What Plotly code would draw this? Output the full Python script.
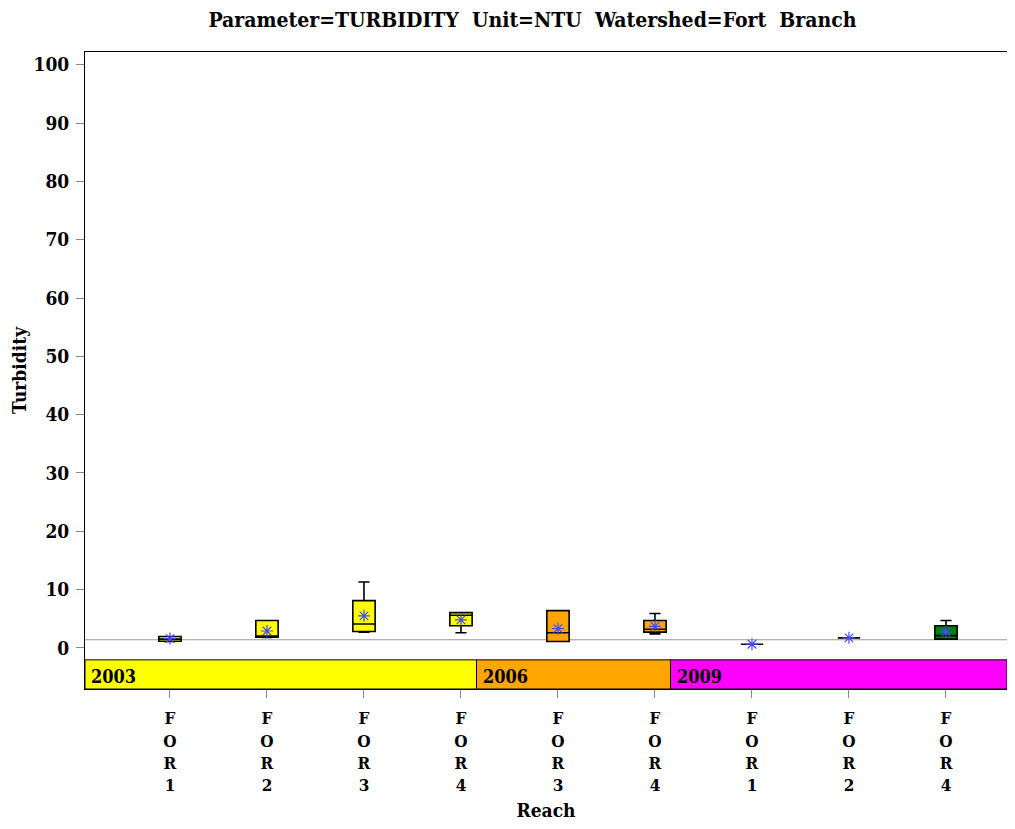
import plotly.graph_objects as go

# box plot summary per reach/year
reaches = ["FOR1", "FOR2", "FOR3", "FOR4", "FOR3", "FOR4", "FOR1", "FOR2", "FOR4"]
years = ["2003", "2003", "2003", "2003", "2006", "2006", "2009", "2009", "2009"]
mins = [1.1, 1.8, 2.7, 2.6, 1.1, 2.4, 0.63, 1.72, 1.5]
q1s = [1.15, 1.85, 2.8, 3.8, 1.1, 2.7, 0.63, 1.72, 1.5]
medians = [1.5, 1.9, 4.1, 5.6, 2.6, 3.2, 0.63, 1.72, 2.1]
q3s = [1.95, 4.7, 8.1, 6.05, 6.4, 4.7, 0.63, 1.72, 3.8]
maxs = [1.95, 4.7, 11.3, 6.05, 6.4, 5.9, 0.63, 1.72, 4.7]
means = [1.6, 2.9, 5.5, 4.8, 3.3, 3.7, 0.63, 1.72, 2.7]
box_colors = ["#FFFF00", "#FFFF00", "#FFFF00", "#FFFF00", "#FFA500", "#FFA500",
              "#FF00FF", "#FF00FF", "#008000"]
ref_value = 1.4

year_labels = ["2003", "2006", "2009"]
year_colors = ["#FFFF00", "#FFA500", "#FF00FF"]

font_family = "DejaVu Serif Condensed, DejaVu Serif, serif"
pos = list(range(len(reaches)))

fig = go.Figure()

for i in pos:
    fig.add_trace(go.Box(
        x=[i], q1=[q1s[i]], median=[medians[i]], q3=[q3s[i]],
        lowerfence=[mins[i]], upperfence=[maxs[i]],
        width=0.23, whiskerwidth=0.5,
        fillcolor=box_colors[i], line=dict(color="black", width=1.6),
        showlegend=False, hoverinfo="skip"))

fig.add_trace(go.Scatter(
    x=pos, y=means, mode="markers",
    marker=dict(symbol="asterisk-open", size=10, color="#4848FF",
                line=dict(color="#4848FF", width=1.2)),
    showlegend=False))

# year block band at the bottom of the plot area
x_lo, x_hi = -0.876, 8.629
edges = [x_lo, 3.16, 5.16, x_hi]
for k, yr in enumerate(year_labels):
    fig.add_shape(type="rect", x0=edges[k], x1=edges[k + 1], y0=-7.05, y1=-2.05,
                  fillcolor=year_colors[k], line=dict(color="black", width=1),
                  layer="below")
    fig.add_annotation(x=edges[k], y=-4.55, text=yr, showarrow=False,
                       xanchor="left", xshift=4, yshift=-2,
                       font=dict(family=font_family, size=18, color="black", weight="bold"))

fig.add_shape(type="line", xref="paper", x0=0, x1=1, y0=ref_value, y1=ref_value,
              line=dict(color="#999999", width=1.2), layer="below")

# page body adds an 8px margin, so the figure is sized to fit inside it
fig.update_layout(
    width=999, height=813,
    margin=dict(l=77, r=0, t=44, b=132),
    plot_bgcolor="white", paper_bgcolor="white",
    font=dict(family=font_family, size=19, color="black", weight="bold"),
    title=dict(text="Parameter=TURBIDITY  Unit=NTU  Watershed=Fort  Branch",
               x=0.525, xanchor="center", y=0.995, yanchor="top",
               font=dict(family=font_family, size=21, weight="bold")),
    xaxis=dict(range=[x_lo, x_hi], tickvals=pos,
               ticktext=["<br>".join(r) for r in reaches],
               ticks="outside", ticklen=8, tickcolor="#888888",
               tickfont=dict(size=17), ticklabelstandoff=6,
               showline=True, linecolor="black", mirror=True,
               showgrid=False, zeroline=False,
               title=dict(text="Reach", standoff=14,
                          font=dict(size=19, weight="bold"))),
    yaxis=dict(range=[-7.05, 102.2], tickvals=list(range(0, 101, 10)),
               ticks="outside", ticklen=8, tickcolor="#888888",
               ticklabelstandoff=3,
               showline=True, linecolor="black", mirror=True,
               showgrid=False, zeroline=False,
               title=dict(text="Turbidity", standoff=7,
                          font=dict(size=19, weight="bold"))),
)

fig.write_html("out.html")
